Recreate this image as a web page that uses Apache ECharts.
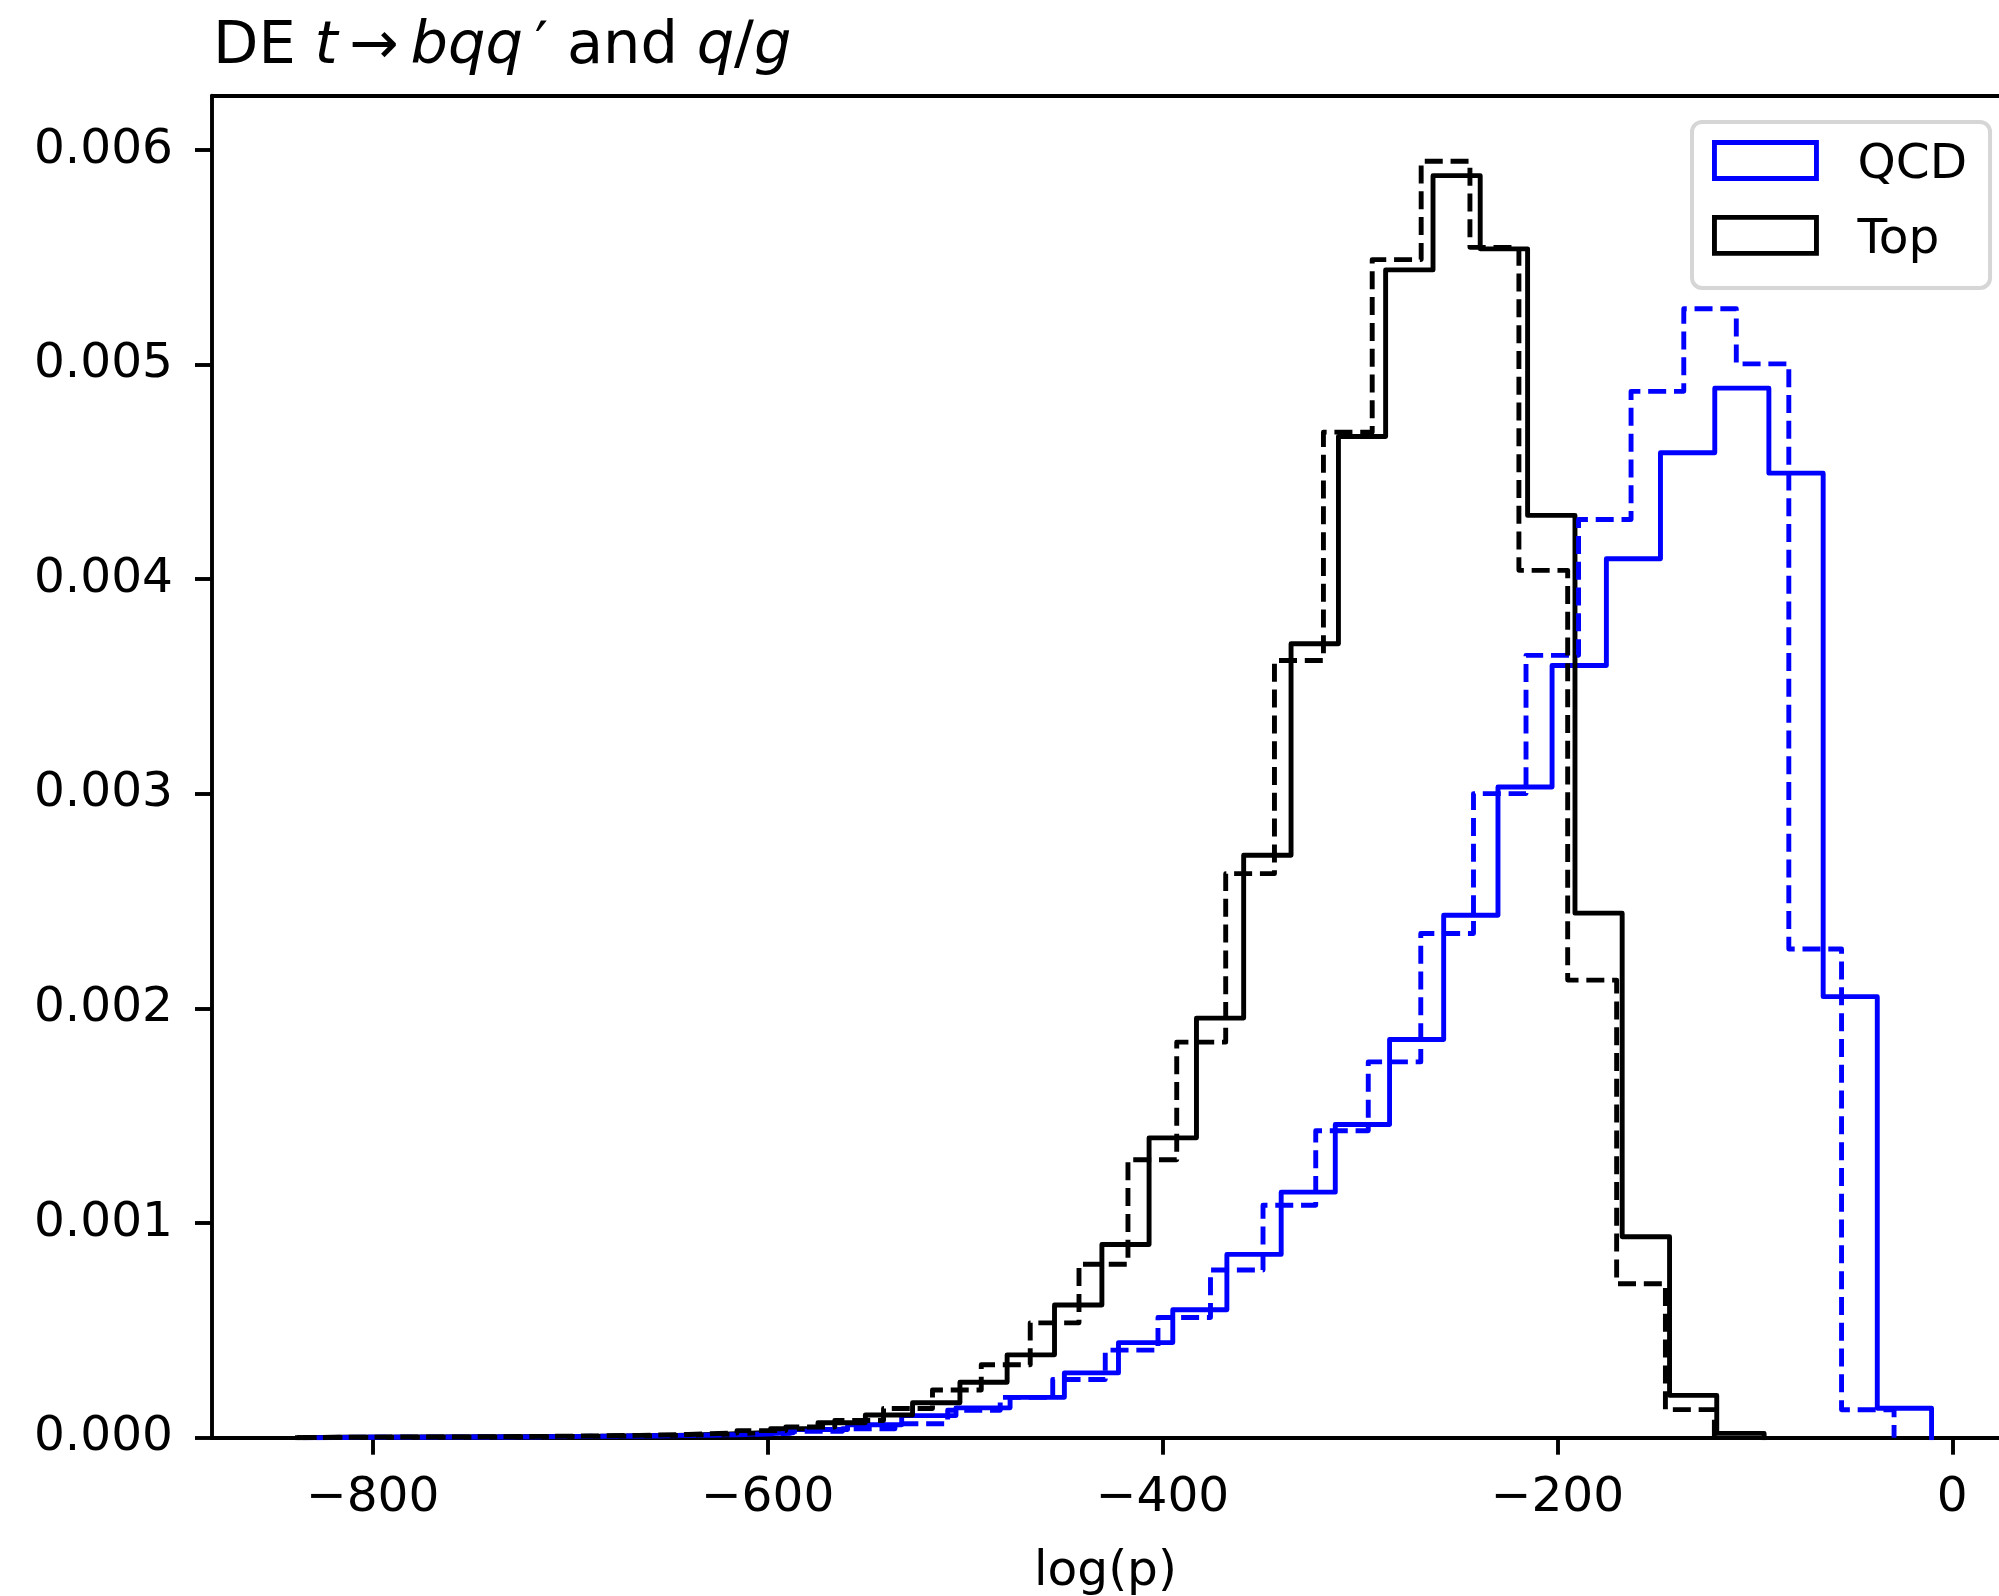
<!DOCTYPE html>
<html><head><meta charset="utf-8">
<script src="https://cdn.jsdelivr.net/npm/echarts@6/dist/echarts.min.js"></script>
<style>html,body{margin:0;padding:0;background:#fff}#c{width:1999px;height:1596px}</style>
</head><body><div id="c"></div>
<script>
// ---- Data (bin edges and normalized heights) ----
const qcdSolidEdges = [-834.0, -806.6, -779.1, -751.7, -724.2, -696.8, -669.3, -641.9, -614.4, -587.0, -559.5, -532.1, -504.6, -477.2, -449.7, -422.3, -394.8, -367.4, -339.9, -312.5, -285.0, -257.6, -230.1, -202.7, -175.2, -147.8, -120.3, -92.9, -65.4, -38.0, -10.5];
const qcdSolidHeights = [0.000002, 0.000002, 0.000003, 0.000004, 0.000005, 0.000007, 0.00001, 0.000015, 0.000023, 0.000038, 0.00006, 0.000103, 0.000139, 0.000188, 0.000302, 0.000443, 0.000596, 0.000854, 0.001144, 0.001459, 0.001855, 0.002434, 0.003032, 0.003598, 0.004095, 0.004589, 0.00489, 0.004494, 0.002055, 0.000137];

const qcdDashedEdges = [-828.4, -801.8, -775.1, -748.5, -721.9, -695.3, -668.6, -642.0, -615.4, -588.7, -562.1, -535.5, -508.8, -482.2, -455.6, -429.0, -402.3, -375.7, -349.1, -322.4, -295.8, -269.2, -242.5, -215.9, -189.3, -162.7, -136.0, -109.4, -82.8, -56.1, -29.5];
const qcdDashedHeights = [0.000002, 0.000002, 0.000003, 0.000004, 0.000006, 0.000008, 0.000011, 0.000014, 0.00002, 0.00003, 0.000042, 0.000065, 0.000128, 0.000188, 0.000271, 0.000408, 0.00056, 0.000781, 0.001083, 0.00143, 0.001751, 0.002349, 0.003001, 0.003645, 0.004278, 0.004875, 0.00526, 0.005003, 0.002277, 0.00013];

const topSolidEdges = [-838.1, -814.1, -790.1, -766.2, -742.2, -718.3, -694.3, -670.3, -646.4, -622.4, -598.5, -574.5, -550.5, -526.6, -502.6, -478.7, -454.7, -430.7, -406.8, -382.8, -358.9, -334.9, -310.9, -287.0, -263.0, -239.1, -215.1, -191.1, -167.2, -143.2, -119.3, -95.3];
const topSolidHeights = [0.000002, 0.000002, 0.000003, 0.000003, 0.000005, 0.000006, 0.000008, 0.000011, 0.000016, 0.000025, 0.000042, 0.00007, 0.000106, 0.000163, 0.000258, 0.000386, 0.000618, 0.0009, 0.001397, 0.001955, 0.002714, 0.003699, 0.004665, 0.005441, 0.00588, 0.005539, 0.004297, 0.002444, 0.000936, 0.000197, 0.00002];

const topDashedEdges = [-838.3, -813.5, -788.8, -764.0, -739.3, -714.5, -689.8, -665.0, -640.3, -615.5, -590.8, -566.0, -541.3, -516.5, -491.8, -467.0, -442.3, -417.5, -392.8, -368.0, -343.3, -318.5, -293.8, -269.0, -244.3, -219.5, -194.8, -170.0, -145.3, -120.5];
const topDashedHeights = [0.000002, 0.000003, 0.000003, 0.000005, 0.000006, 0.000008, 0.000011, 0.000015, 0.000022, 0.000033, 0.00005, 0.00008, 0.000136, 0.000222, 0.00034, 0.000535, 0.000808, 0.001295, 0.001843, 0.002628, 0.003621, 0.004685, 0.005489, 0.005947, 0.005546, 0.004041, 0.002132, 0.000717, 0.000131];

const xTicks = [-800, -600, -400, -200, 0];
const yTicks = [0, 0.001, 0.002, 0.003, 0.004, 0.005, 0.006];
const legendNames = ['QCD', 'Top'];

// ---- helpers ----
function stepPoints(edges, heights) {
  const pts = [[edges[0], 0]];
  for (let i = 0; i < heights.length; i++) {
    pts.push([edges[i], heights[i]]);
    pts.push([edges[i + 1], heights[i]]);
  }
  pts.push([edges[edges.length - 1], 0]);
  return pts;
}
const FONT = 'DejaVu Sans';
const LW = 4.9;
const DASH = [18, 7.8];
function stepSeries(name, edges, heights, color, dashed) {
  return {
    name: name, type: 'line', data: stepPoints(edges, heights),
    xAxisIndex: 0, yAxisIndex: 0,
    showSymbol: false, symbol: 'none', silent: true, clip: true,
    lineStyle: { color: color, width: LW, type: dashed ? DASH : 'solid', join: 'round', cap: dashed ? 'butt' : 'square' },
    itemStyle: { color: color },
    emphasis: { disabled: true }, animation: false
  };
}
const minus = v => (v < 0 ? '\u2212' + Math.abs(v) : String(v));
const X_MIN = -881.4, X_MAX = 23.65;

const chart = echarts.init(document.getElementById('c'), null, { renderer: 'canvas' });
chart.setOption({
  backgroundColor: '#ffffff',
  animation: false,
  textStyle: { fontFamily: FONT },
  title: {
    left: 208, top: 13,
    text: '{n|DE }{i|t}{n|\u2009\u2192\u2009}{i|bqq}{n|\u2009\u2032 and }{i|q}{n|/}{i|g}',
    textStyle: {
      fontWeight: 'normal',
      rich: {
        n: { fontFamily: FONT, fontSize: 59, fontWeight: 'normal', color: '#000' },
        i: { fontFamily: FONT, fontSize: 59, fontWeight: 'normal', fontStyle: 'italic', color: '#000' }
      }
    }
  },
  legend: {
    orient: 'vertical', left: 1692, top: 122,
    padding: [18, 23, 23, 20],
    itemGap: 25, itemWidth: 102, itemHeight: 36,
    selectedMode: false,
    backgroundColor: '#ffffff',
    borderColor: '#d6d6d6', borderWidth: 4, borderRadius: 10,
    formatter: '{a|{name}}',
    textStyle: {
      fontFamily: FONT, fontSize: 48.6, color: '#000', padding: [0, 0, 0, 36],
      rich: { a: { fontFamily: FONT, fontSize: 48.6, color: '#000', padding: [10, 0, 0, 0] } }
    },
    data: [
      { name: legendNames[0], icon: 'rect', itemStyle: { color: '#ffffff', borderColor: '#0000ff', borderWidth: LW } },
      { name: legendNames[1], icon: 'rect', itemStyle: { color: '#ffffff', borderColor: '#000000', borderWidth: LW } }
    ]
  },
  grid: { left: 212, top: 95.6, right: 0, height: 1342.1, show: false, containLabel: false, outerBoundsMode: 'none' },
  xAxis: [{
    type: 'value', min: X_MIN, max: X_MAX, position: 'bottom',
    name: 'log(p)', nameLocation: 'middle', nameGap: 110,
    nameTextStyle: { fontFamily: FONT, fontSize: 48.6, color: '#000' },
    axisLine: { show: true, onZero: false, lineStyle: { color: '#000', width: 3.9 } },
    axisTick: { show: true, length: 17, lineStyle: { color: '#000', width: 3.9 }, customValues: xTicks },
    axisLabel: { margin: 36, fontFamily: FONT, fontSize: 48.6, color: '#000', customValues: xTicks, formatter: minus },
    splitLine: { show: false }
  }, {
    type: 'value', min: X_MIN, max: X_MAX, position: 'top',
    axisLine: { show: true, onZero: false, lineStyle: { color: '#000', width: 3.9 } },
    axisTick: { show: false }, axisLabel: { show: false }, splitLine: { show: false }
  }],
  yAxis: {
    type: 'value', min: 0, max: 0.006253,
    axisLine: { show: true, onZero: false, lineStyle: { color: '#000', width: 3.9 } },
    axisTick: { show: true, length: 17, lineStyle: { color: '#000', width: 3.9 }, customValues: yTicks },
    axisLabel: { margin: 39, padding: [7, 0, 0, 0], fontFamily: FONT, fontSize: 48.6, color: '#000', customValues: yTicks, formatter: v => Number(v).toFixed(3) },
    splitLine: { show: false }
  },
  series: [
    stepSeries('QCD', qcdSolidEdges, qcdSolidHeights, '#0000ff', false),
    stepSeries('Top', topSolidEdges, topSolidHeights, '#000000', false),
    stepSeries('QCD (dashed)', qcdDashedEdges, qcdDashedHeights, '#0000ff', true),
    stepSeries('Top (dashed)', topDashedEdges, topDashedHeights, '#000000', true)
  ]
});
</script>
</body></html>
